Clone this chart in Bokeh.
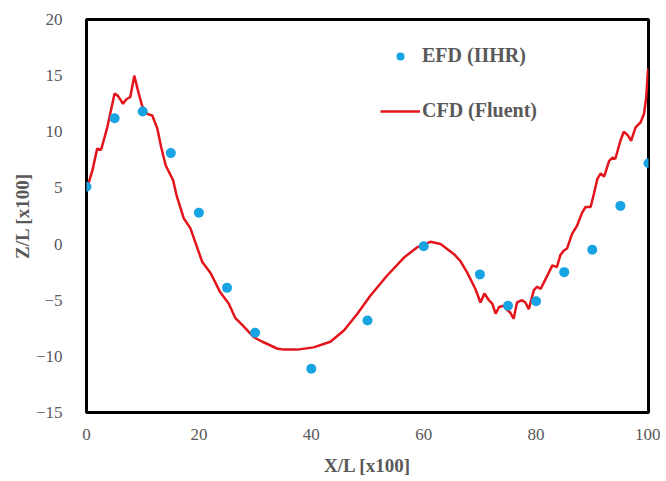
from bokeh.plotting import figure
from bokeh.models import Range1d, FixedTicker, Legend, LegendItem
from bokeh.embed import file_html
from bokeh.resources import INLINE

# EFD (IIHR) measurements
efd_x = [0, 5, 10, 15, 20, 25, 30, 40, 50, 60, 70, 75, 80, 85, 90, 95, 100]
efd_z = [5.1, 11.2, 11.8, 8.1, 2.8, -3.9, -7.9, -11.1, -6.8, -0.2, -2.7, -5.5, -5.1, -2.5, -0.5, 3.4, 7.2]

# CFD (Fluent) curve
cfd_x = [0, 1.07, 1.9, 2.6, 3.7, 5.0, 5.6, 6.5, 7.1, 7.8, 8.5, 9.3, 9.9, 10.8, 11.7,
         12.6, 13.3, 14.1, 14.9, 15.4, 16.1, 17.3, 18.5, 19.4, 20.6, 22.1, 23.8, 25.3,
         26.5, 27.7, 29.8, 31.3, 33.9, 35.1, 37.5, 40.4, 43.4, 45.8, 48.2, 50.5, 53.5,
         56.5, 58.8, 61.2, 63.0, 65.4, 66.5, 67.7, 69.2, 70.1, 70.8, 71.6, 72.2, 72.8,
         73.4, 74.3, 74.9, 75.4, 76.0, 76.6, 77.5, 78.1, 78.7, 79.6, 80.2, 80.8, 81.3,
         82.3, 82.9, 83.7, 84.3, 84.9, 85.5, 86.4, 87.3, 88.2, 88.8, 89.7, 90.3, 90.9,
         91.5, 92.1, 93.0, 93.6, 94.1, 95.0, 95.6, 96.3, 96.9, 97.7, 98.6, 99.2, 99.6,
         99.9, 100]
cfd_z = [4.8, 6.6, 8.5, 8.4, 10.4, 13.4, 13.2, 12.5, 12.9, 13.1, 15.0, 13.4, 12.3, 11.6, 11.45,
         10.3, 8.6, 7.0, 6.2, 5.7, 4.2, 2.3, 1.4, 0.1, -1.6, -2.6, -4.3, -5.3,
         -6.6, -7.2, -8.3, -8.7, -9.3, -9.4, -9.4, -9.2, -8.7, -7.7, -6.2, -4.6, -2.8,
         -1.2, -0.3, 0.2, 0.0, -0.9, -1.5, -2.5, -4.0, -5.2, -4.4, -5.0, -5.3, -6.2,
         -5.6, -5.5, -5.9, -6.1, -6.65, -5.2, -5.0, -5.2, -5.8, -4.1, -3.8, -4.0, -3.5,
         -2.5, -1.9, -2.05, -1.0, -0.6, -0.4, 0.9, 1.65, 2.8, 3.3, 3.3, 4.5, 5.8,
         6.3, 6.0, 7.4, 7.7, 7.6, 9.2, 10.0, 9.7, 9.2, 10.4, 10.85, 11.6, 13.1,
         15.5, 15.6]

x_ticks = [0, 20, 40, 60, 80, 100]
y_ticks = [-15, -10, -5, 0, 5, 10, 15, 20]

GRAY = "#595959"
FONT = "Liberation Serif"

p = figure(width=660, height=480, output_backend="svg", toolbar_location=None,
           x_range=Range1d(0, 100), y_range=Range1d(-15, 20),
           min_border_left=86, min_border_right=12, min_border_top=19, min_border_bottom=68)

p.outline_line_color = "black"
p.outline_line_width = 3
p.outline_line_alpha = 1
p.xgrid.visible = False
p.ygrid.visible = False

line = p.line(cfd_x, cfd_z, line_color="#e3141b", line_width=2.5)
pts = p.scatter(efd_x, efd_z, size=10, fill_color="#18a3e3", line_color=None)

for ax, ticks in ((p.xaxis, x_ticks), (p.yaxis, y_ticks)):
    ax.ticker = FixedTicker(ticks=ticks)
    ax.axis_line_color = None
    ax.major_tick_line_color = None
    ax.minor_tick_line_color = None
    ax.major_label_text_font = FONT
    ax.major_label_text_font_size = "17px"
    ax.major_label_text_color = GRAY
    ax.axis_label_text_font = FONT
    ax.axis_label_text_font_style = "bold"
    ax.axis_label_text_font_size = "19px"
    ax.axis_label_text_color = GRAY

p.xaxis.axis_label = "X/L [x100]"
p.yaxis.axis_label = "Z/L [x100]"
p.xaxis.major_label_standoff = 10
p.yaxis.major_label_standoff = 18
p.xaxis.axis_label_standoff = 12
p.yaxis.axis_label_standoff = 0

legend = Legend(items=[LegendItem(label="EFD (IIHR)", renderers=[pts]),
                       LegendItem(label="CFD (Fluent)", renderers=[line])],
                location=(294, 290), orientation="vertical")
legend.border_line_color = None
legend.background_fill_alpha = 0
legend.padding = 0
legend.margin = 0
legend.glyph_width = 40
legend.glyph_height = 20
legend.label_height = 20
legend.label_standoff = 2
legend.spacing = 32
legend.label_text_font = FONT
legend.label_text_font_style = "bold"
legend.label_text_font_size = "20px"
legend.label_text_color = GRAY
p.add_layout(legend, "center")

open("out.html", "w").write(file_html(p, INLINE))
